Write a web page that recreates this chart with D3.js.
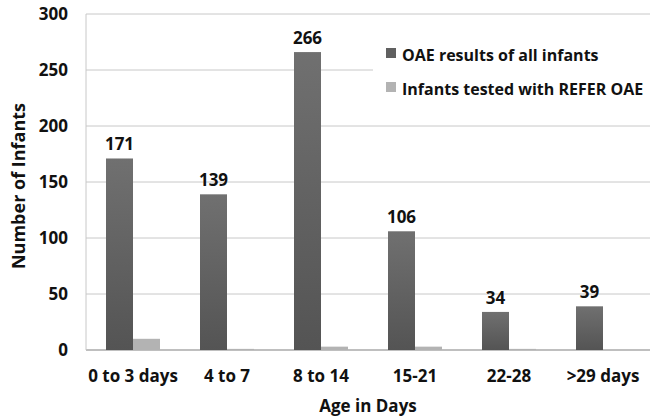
<!DOCTYPE html>
<html>
<head>
<meta charset="utf-8">
<script src="https://cdn.jsdelivr.net/npm/d3@7"></script>
<style>
  body { margin: 0; background: #fff; }
  svg { display: block; }
  text { font-family: "Open Sans", Lato, sans-serif; font-weight: bold; fill: #111; }
</style>
</head>
<body>
<svg id="chart" width="655" height="418"></svg>
<script>
'use strict';

var categories = ['0 to 3 days', '4 to 7', '8 to 14', '15-21', '22-28', '>29 days'];
var allInfants = [171, 139, 266, 106, 34, 39];
var referOAE = [10, 1, 3, 3, 1, 0];
var seriesNames = ['OAE results of all infants', 'Infants tested with REFER OAE'];
var yTicks = [0, 50, 100, 150, 200, 250, 300];

var margin = {top: 14, right: 5, bottom: 68, left: 86};
var width = 655 - margin.left - margin.right;
var height = 418 - margin.top - margin.bottom;

var svg = d3.select('#chart');

var defs = svg.append('defs');
var grad = defs.append('linearGradient')
	.attr('id', 'darkbar')
	.attr('x1', 0).attr('y1', 0).attr('x2', 0).attr('y2', 1);
grad.append('stop').attr('offset', '0%').attr('stop-color', '#707070');
grad.append('stop').attr('offset', '100%').attr('stop-color', '#545454');

var g = svg.append('g')
	.attr('transform', 'translate(' + margin.left + ',' + margin.top + ')');

var x = d3.scaleBand()
	.domain(categories)
	.range([0, width]);

var y = d3.scaleLinear()
	.domain([0, 300])
	.range([height, 0]);

var barW = 27;

// gridlines (the 250 one stops where the legend sits)
g.selectAll('line.grid')
	.data(yTicks)
	.enter()
	.append('line')
		.classed('grid', true)
		.attr('x1', 0)
		.attr('x2', function(d) { return d === 250 ? 373 - margin.left : width; })
		.attr('y1', function(d) { return y(d); })
		.attr('y2', function(d) { return y(d); })
		.attr('stroke', function(d) { return d === 0 ? '#aaa' : '#c8c8c8'; })
		.attr('stroke-width', function(d) { return d === 0 ? 1.5 : 1; })
	;

// y axis line
g.append('line')
	.attr('x1', 0).attr('x2', 0)
	.attr('y1', y(300)).attr('y2', y(0))
	.attr('stroke', '#c8c8c8');

// y tick labels
g.selectAll('text.ytick')
	.data(yTicks)
	.enter()
	.append('text')
		.classed('ytick', true)
		.attr('x', -18)
		.attr('y', function(d) { return y(d); })
		.attr('dy', '0.35em')
		.attr('text-anchor', 'end')
		.attr('font-size', '17px')
		.text(function(d) { return d; })
	;

// dark bars
g.selectAll('rect.all')
	.data(allInfants)
	.enter()
	.append('rect')
		.classed('all', true)
		.attr('x', function(d, i) { return x(categories[i]) + x.bandwidth() / 2 - barW; })
		.attr('y', function(d) { return y(d); })
		.attr('width', barW)
		.attr('height', function(d) { return height - y(d); })
		.attr('fill', 'url(#darkbar)')
	;

// light bars
g.selectAll('rect.refer')
	.data(referOAE)
	.enter()
	.append('rect')
		.classed('refer', true)
		.attr('x', function(d, i) { return x(categories[i]) + x.bandwidth() / 2; })
		.attr('y', function(d) { return y(d); })
		.attr('width', barW)
		.attr('height', function(d) { return height - y(d); })
		.attr('fill', '#b3b3b3')
	;

// value labels
g.selectAll('text.value')
	.data(allInfants)
	.enter()
	.append('text')
		.classed('value', true)
		.attr('x', function(d, i) { return x(categories[i]) + x.bandwidth() / 2 - barW / 2; })
		.attr('y', function(d) { return y(d) - 8; })
		.attr('text-anchor', 'middle')
		.attr('font-size', '17px')
		.text(function(d) { return d; })
	;

// x tick labels
g.selectAll('text.xtick')
	.data(categories)
	.enter()
	.append('text')
		.classed('xtick', true)
		.attr('x', function(d) { return x(d) + x.bandwidth() / 2; })
		.attr('y', height + 32)
		.attr('text-anchor', 'middle')
		.attr('font-size', '17px')
		.text(function(d) { return d; })
	;

// axis titles
svg.append('text')
	.attr('x', 368)
	.attr('y', 412)
	.attr('text-anchor', 'middle')
	.attr('font-size', '17px')
	.text('Age in Days');

svg.append('text')
	.attr('transform', 'translate(25,186) rotate(-90)')
	.attr('text-anchor', 'middle')
	.attr('font-size', '18px')
	.text('Number of Infants');

// legend
var legend = svg.append('g').attr('transform', 'translate(386,48)');
var lg = legend.selectAll('g.item')
	.data(seriesNames)
	.enter()
	.append('g')
		.classed('item', true)
		.attr('transform', function(d, i) { return 'translate(0,' + (i * 34) + ')'; })
	;
lg.append('rect')
	.attr('width', 10)
	.attr('height', 10)
	.attr('fill', function(d, i) { return i === 0 ? '#606060' : '#b3b3b3'; });
lg.append('text')
	.attr('x', 16)
	.attr('y', 7)
	.attr('dy', '0.35em')
	.attr('font-size', '16px')
	.text(function(d) { return d; });
</script>
</body>
</html>
